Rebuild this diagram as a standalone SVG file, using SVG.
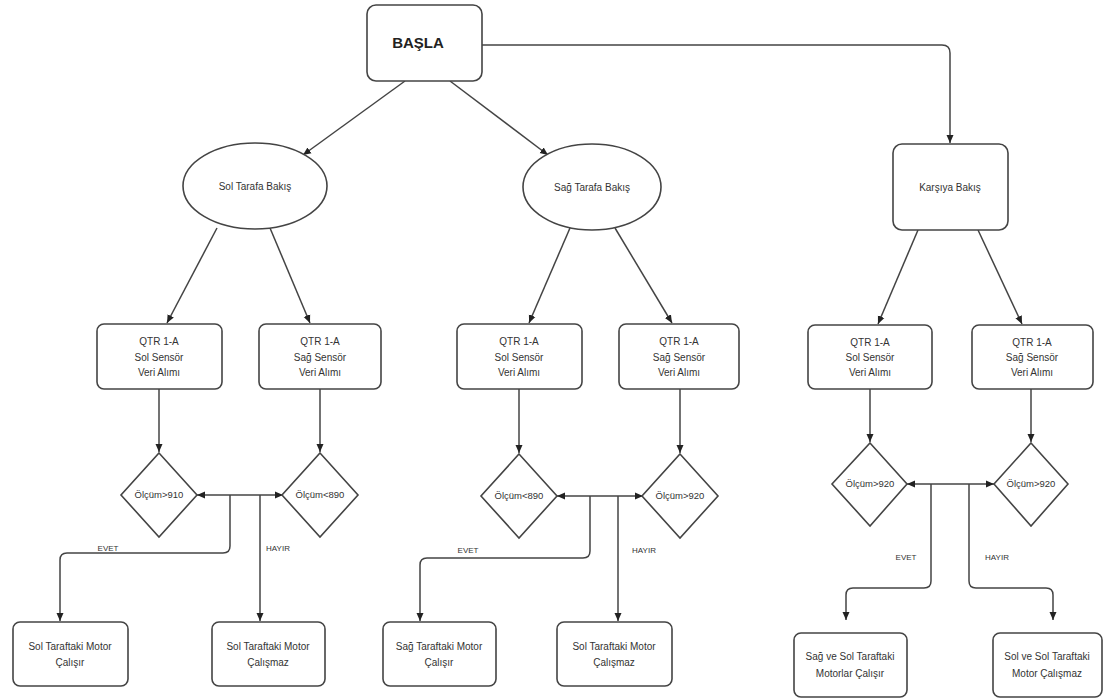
<svg xmlns="http://www.w3.org/2000/svg" width="1104" height="699" viewBox="0 0 1104 699">
<style>
.n{fill:#fff;stroke:#444;stroke-width:1.6}
.t{font-family:"Liberation Sans",Arial,sans-serif;font-size:10px;fill:#333;text-anchor:middle;dominant-baseline:middle}
.l{font-family:"Liberation Sans",Arial,sans-serif;font-size:8px;fill:#333;text-anchor:middle;dominant-baseline:middle}
.c{fill:none;stroke:#444;stroke-width:1.5}
</style>
<defs>
<marker id="a" markerUnits="userSpaceOnUse" markerWidth="9" markerHeight="9" refX="8" refY="4" orient="auto-start-reverse">
<path d="M0,0.5 L8,4 L0,7.5 z" fill="#222"/>
</marker>
</defs>
<rect width="1104" height="699" fill="#fff"/>
<g id="connectors">
<path class="c" d="M482,45 H942 Q950,45 950,53 V143" marker-end="url(#a)"/>
<path class="c" d="M405,81 L303,155" marker-end="url(#a)"/>
<path class="c" d="M450,81 L548,155" marker-end="url(#a)"/>
<path class="c" d="M217,228 L167,323" marker-end="url(#a)"/>
<path class="c" d="M270,228 L310,323" marker-end="url(#a)"/>
<path class="c" d="M570,228 L529,323" marker-end="url(#a)"/>
<path class="c" d="M615,228 L672,323" marker-end="url(#a)"/>
<path class="c" d="M918,230 L878,324" marker-end="url(#a)"/>
<path class="c" d="M978,230 L1022,324" marker-end="url(#a)"/>
<path class="c" d="M159,389 V452" marker-end="url(#a)"/>
<path class="c" d="M320,389 V452" marker-end="url(#a)"/>
<path class="c" d="M519,389 V453" marker-end="url(#a)"/>
<path class="c" d="M680,389 V453" marker-end="url(#a)"/>
<path class="c" d="M870,389 V442" marker-end="url(#a)"/>
<path class="c" d="M1031,389 V442" marker-end="url(#a)"/>
<path class="c" d="M197,495 H283" marker-start="url(#a)" marker-end="url(#a)"/>
<path class="c" d="M230,495 V546 Q230,553 223,553 H67 Q60,553 60,560 V621" marker-end="url(#a)"/>
<path class="c" d="M260,495 V621" marker-end="url(#a)"/>
<path class="c" d="M557,496 H643" marker-start="url(#a)" marker-end="url(#a)"/>
<path class="c" d="M590,496 V551 Q590,558 583,558 H427 Q420,558 420,565 V621" marker-end="url(#a)"/>
<path class="c" d="M618,496 V621" marker-end="url(#a)"/>
<path class="c" d="M907,484 H994" marker-start="url(#a)" marker-end="url(#a)"/>
<path class="c" d="M931,484 V581 Q931,588 924,588 H853 Q846,588 846,595 V620" marker-end="url(#a)"/>
<path class="c" d="M969,484 V581 Q969,588 976,588 H1046 Q1053,588 1053,595 V620" marker-end="url(#a)"/>
<text class="l" x="108" y="549">EVET</text>
<text class="l" x="278" y="549">HAYIR</text>
<text class="l" x="468" y="551">EVET</text>
<text class="l" x="644" y="551">HAYIR</text>
<text class="l" x="906" y="558">EVET</text>
<text class="l" x="997" y="558">HAYIR</text>
</g>
<g id="basla"><rect class="n" x="367" y="5" width="115" height="76" rx="9"/><text class="t" x="418" y="44" style="font-size:15px;font-weight:bold;fill:#222">BAŞLA</text></g>
<g id="sol-bakis"><ellipse class="n" cx="255" cy="186" rx="72" ry="43"/><text class="t" x="255" y="187">Sol Tarafa Bakış</text></g>
<g id="sag-bakis"><ellipse class="n" cx="592" cy="187" rx="69" ry="43"/><text class="t" x="592" y="188">Sağ Tarafa Bakış</text></g>
<g id="karsiya"><rect class="n" x="893" y="144" width="115" height="86" rx="9"/><text class="t" x="950" y="188">Karşıya Bakış</text></g>
<g id="q1"><rect class="n" x="97" y="324" width="125" height="65" rx="7"/><text class="t" x="159" y="342">QTR 1-A</text><text class="t" x="159" y="358">Sol Sensör</text><text class="t" x="159" y="373">Veri Alımı</text></g>
<g id="q2"><rect class="n" x="259" y="324" width="122" height="65" rx="7"/><text class="t" x="320" y="342">QTR 1-A</text><text class="t" x="320" y="358">Sağ Sensör</text><text class="t" x="320" y="373">Veri Alımı</text></g>
<g id="q3"><rect class="n" x="457" y="324" width="125" height="65" rx="7"/><text class="t" x="519" y="342">QTR 1-A</text><text class="t" x="519" y="358">Sol Sensör</text><text class="t" x="519" y="373">Veri Alımı</text></g>
<g id="q4"><rect class="n" x="619" y="324" width="120" height="65" rx="7"/><text class="t" x="679" y="342">QTR 1-A</text><text class="t" x="679" y="358">Sağ Sensör</text><text class="t" x="679" y="373">Veri Alımı</text></g>
<g id="q5"><rect class="n" x="808" y="325" width="124" height="64" rx="7"/><text class="t" x="870" y="343">QTR 1-A</text><text class="t" x="870" y="358">Sol Sensör</text><text class="t" x="870" y="373">Veri Alımı</text></g>
<g id="q6"><rect class="n" x="972" y="325" width="121" height="64" rx="7"/><text class="t" x="1032" y="343">QTR 1-A</text><text class="t" x="1032" y="358">Sağ Sensör</text><text class="t" x="1032" y="373">Veri Alımı</text></g>
<g id="d1"><path class="n" d="M159,453 L197,495 L159,537 L121,495 z"/><text class="t" x="159" y="495" style="font-size:9.5px">Ölçüm&gt;910</text></g>
<g id="d2"><path class="n" d="M320,453 L358,495 L320,537 L282,495 z"/><text class="t" x="320" y="495" style="font-size:9.5px">Ölçüm&lt;890</text></g>
<g id="d3"><path class="n" d="M519,454 L557,496 L519,538 L481,496 z"/><text class="t" x="519" y="496" style="font-size:9.5px">Ölçüm&lt;890</text></g>
<g id="d4"><path class="n" d="M680,454 L718,496 L680,538 L642,496 z"/><text class="t" x="680" y="496" style="font-size:9.5px">Ölçüm&gt;920</text></g>
<g id="d5"><path class="n" d="M870,443 L907,484 L870,526 L832,484 z"/><text class="t" x="870" y="484" style="font-size:9.5px">Ölçüm&gt;920</text></g>
<g id="d6"><path class="n" d="M1031,443 L1068,484 L1031,526 L994,484 z"/><text class="t" x="1031" y="484" style="font-size:9.5px">Ölçüm&gt;920</text></g>
<g id="r1"><rect class="n" x="13" y="622" width="115" height="64" rx="7"/><text class="t" x="70" y="647">Sol Taraftaki Motor</text><text class="t" x="70" y="663">Çalışır</text></g>
<g id="r2"><rect class="n" x="212" y="622" width="113" height="64" rx="7"/><text class="t" x="268" y="647">Sol Taraftaki Motor</text><text class="t" x="268" y="663">Çalışmaz</text></g>
<g id="r3"><rect class="n" x="383" y="622" width="113" height="64" rx="7"/><text class="t" x="439" y="647">Sağ Taraftaki Motor</text><text class="t" x="439" y="663">Çalışır</text></g>
<g id="r4"><rect class="n" x="557" y="622" width="115" height="64" rx="7"/><text class="t" x="614" y="647">Sol Taraftaki Motor</text><text class="t" x="614" y="663">Çalışmaz</text></g>
<g id="r5"><rect class="n" x="794" y="633" width="113" height="64" rx="7"/><text class="t" x="850" y="657">Sağ ve Sol Taraftaki</text><text class="t" x="850" y="674">Motorlar Çalışır</text></g>
<g id="r6"><rect class="n" x="993" y="633" width="109" height="64" rx="7"/><text class="t" x="1047" y="657">Sol ve Sol Taraftaki</text><text class="t" x="1047" y="674">Motor Çalışmaz</text></g>
</svg>
